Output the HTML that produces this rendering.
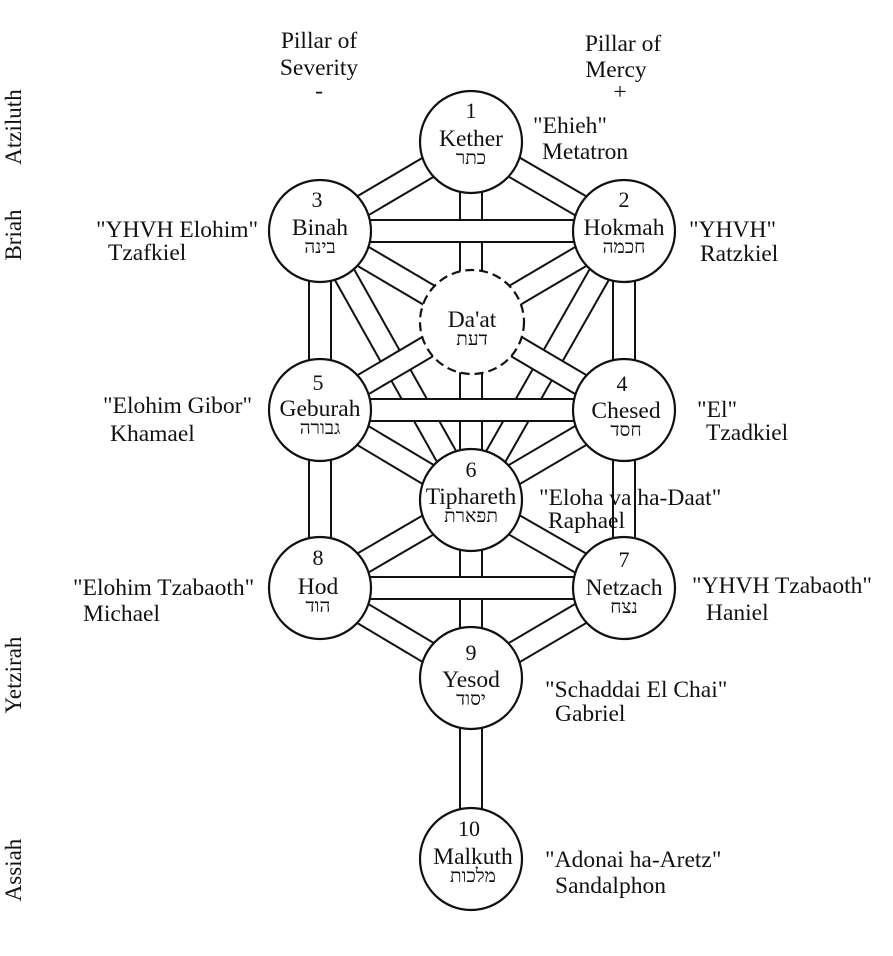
<!DOCTYPE html>
<html><head><meta charset="utf-8"><style>
html,body{margin:0;padding:0;background:#fff;}
svg{display:block;}
text{font-family:"Liberation Serif","Noto Serif CJK SC",serif;fill:#111;}
</style></head><body>
<svg width="893" height="956" viewBox="0 0 893 956" xmlns="http://www.w3.org/2000/svg">
<rect width="893" height="956" fill="#fff"/>
<g fill="none">
<line x1="471" y1="142" x2="320" y2="231" stroke="#111" stroke-width="24"/><line x1="471" y1="142" x2="320" y2="231" stroke="#fff" stroke-width="20"/>
<line x1="471" y1="142" x2="624" y2="231" stroke="#111" stroke-width="24"/><line x1="471" y1="142" x2="624" y2="231" stroke="#fff" stroke-width="20"/>
<line x1="471" y1="142" x2="471" y2="500" stroke="#111" stroke-width="24"/><line x1="471" y1="142" x2="471" y2="500" stroke="#fff" stroke-width="20"/>
<line x1="320" y1="231" x2="624" y2="231" stroke="#111" stroke-width="24"/><line x1="320" y1="231" x2="624" y2="231" stroke="#fff" stroke-width="20"/>
<line x1="320" y1="231" x2="320" y2="588" stroke="#111" stroke-width="24"/><line x1="320" y1="231" x2="320" y2="588" stroke="#fff" stroke-width="20"/>
<line x1="624" y1="231" x2="624" y2="588" stroke="#111" stroke-width="24"/><line x1="624" y1="231" x2="624" y2="588" stroke="#fff" stroke-width="20"/>
<line x1="320" y1="231" x2="471" y2="500" stroke="#111" stroke-width="24"/><line x1="320" y1="231" x2="471" y2="500" stroke="#fff" stroke-width="20"/>
<line x1="624" y1="231" x2="471" y2="500" stroke="#111" stroke-width="24"/><line x1="624" y1="231" x2="471" y2="500" stroke="#fff" stroke-width="20"/>
<line x1="320" y1="231" x2="624" y2="410" stroke="#111" stroke-width="24"/><line x1="320" y1="231" x2="624" y2="410" stroke="#fff" stroke-width="20"/>
<line x1="624" y1="231" x2="320" y2="410" stroke="#111" stroke-width="24"/><line x1="624" y1="231" x2="320" y2="410" stroke="#fff" stroke-width="20"/>
<line x1="320" y1="410" x2="624" y2="410" stroke="#111" stroke-width="24"/><line x1="320" y1="410" x2="624" y2="410" stroke="#fff" stroke-width="20"/>
<line x1="320" y1="410" x2="471" y2="500" stroke="#111" stroke-width="24"/><line x1="320" y1="410" x2="471" y2="500" stroke="#fff" stroke-width="20"/>
<line x1="624" y1="410" x2="471" y2="500" stroke="#111" stroke-width="24"/><line x1="624" y1="410" x2="471" y2="500" stroke="#fff" stroke-width="20"/>
<line x1="471" y1="500" x2="320" y2="588" stroke="#111" stroke-width="24"/><line x1="471" y1="500" x2="320" y2="588" stroke="#fff" stroke-width="20"/>
<line x1="471" y1="500" x2="624" y2="588" stroke="#111" stroke-width="24"/><line x1="471" y1="500" x2="624" y2="588" stroke="#fff" stroke-width="20"/>
<line x1="471" y1="500" x2="471" y2="860" stroke="#111" stroke-width="24"/><line x1="471" y1="500" x2="471" y2="860" stroke="#fff" stroke-width="20"/>
<line x1="320" y1="588" x2="624" y2="588" stroke="#111" stroke-width="24"/><line x1="320" y1="588" x2="624" y2="588" stroke="#fff" stroke-width="20"/>
<line x1="320" y1="588" x2="471" y2="678" stroke="#111" stroke-width="24"/><line x1="320" y1="588" x2="471" y2="678" stroke="#fff" stroke-width="20"/>
<line x1="624" y1="588" x2="471" y2="678" stroke="#111" stroke-width="24"/><line x1="624" y1="588" x2="471" y2="678" stroke="#fff" stroke-width="20"/>
</g>
<g fill="#fff" stroke="#111" stroke-width="2.2">
<circle cx="471" cy="142" r="51"/>
<circle cx="320" cy="231" r="51"/>
<circle cx="624" cy="231" r="51"/>
<circle cx="472" cy="322" r="52" stroke-dasharray="9,5"/>
<circle cx="320" cy="410" r="51"/>
<circle cx="624" cy="410" r="51"/>
<circle cx="471" cy="500" r="51"/>
<circle cx="320" cy="588" r="51"/>
<circle cx="624" cy="588" r="51"/>
<circle cx="471" cy="678" r="51"/>
<circle cx="471" cy="859" r="51"/>
</g>
<g text-anchor="middle" font-size="23.5">
<text x="471" y="118" font-size="22">1</text><text x="471" y="146">Kether</text><text x="471" y="164" font-size="19">כתר</text>
<text x="317" y="207" font-size="22">3</text><text x="320" y="235">Binah</text><text x="320" y="253" font-size="19">בינה</text>
<text x="624" y="207" font-size="22">2</text><text x="624" y="235">Hokmah</text><text x="624" y="253" font-size="19">חכמה</text>
<text x="472" y="327">Da'at</text><text x="472" y="345" font-size="19">דעת</text>
<text x="318" y="390" font-size="22">5</text><text x="320" y="416">Geburah</text><text x="320" y="434" font-size="19">גבורה</text>
<text x="622" y="391" font-size="22">4</text><text x="626" y="418">Chesed</text><text x="626" y="436" font-size="19">חסד</text>
<text x="471" y="477" font-size="22">6</text><text x="471" y="504">Tiphareth</text><text x="471" y="522" font-size="19">תפארת</text>
<text x="318" y="565" font-size="22">8</text><text x="318" y="594">Hod</text><text x="318" y="612" font-size="19">הוד</text>
<text x="624" y="567" font-size="22">7</text><text x="624" y="595">Netzach</text><text x="624" y="613" font-size="19">נצח</text>
<text x="471" y="660" font-size="22">9</text><text x="471" y="687">Yesod</text><text x="471" y="705" font-size="19">יסוד</text>
<text x="469" y="836" font-size="22">10</text><text x="473" y="864">Malkuth</text><text x="473" y="882" font-size="19">מלכות</text>
</g>
<g text-anchor="middle" font-size="23.5">
<text x="319" y="48">Pillar of</text><text x="319" y="75">Severity</text><text x="319" y="98">-</text>
<text x="623" y="51">Pillar of</text><text x="616" y="77">Mercy</text><text x="620" y="99">+</text>
</g>
<g font-size="23.5">
<text x="533" y="133">"Ehieh"</text><text x="542" y="159">Metatron</text>
<text x="96" y="237">"YHVH Elohim"</text><text x="108" y="260">Tzafkiel</text>
<text x="689" y="237">"YHVH"</text><text x="700" y="261">Ratzkiel</text>
<text x="103" y="413">"Elohim Gibor"</text><text x="110" y="441">Khamael</text>
<text x="697" y="417">"El"</text><text x="706" y="440">Tzadkiel</text>
<text x="539" y="505">"Eloha va ha-Daat"</text><text x="548" y="528">Raphael</text>
<text x="73" y="595">"Elohim Tzabaoth"</text><text x="83" y="621">Michael</text>
<text x="692" y="593">"YHVH Tzabaoth"</text><text x="706" y="620">Haniel</text>
<text x="545" y="697">"Schaddai El Chai"</text><text x="555" y="721">Gabriel</text>
<text x="545" y="867">"Adonai ha-Aretz"</text><text x="555" y="893">Sandalphon</text>
</g>
<g font-size="23" text-anchor="middle">
<text transform="translate(21,127) rotate(-90)">Atziluth</text>
<text transform="translate(21,235) rotate(-90)">Briah</text>
<text transform="translate(21,675) rotate(-90)">Yetzirah</text>
<text transform="translate(21,870) rotate(-90)">Assiah</text>
</g>
</svg>
</body></html>
